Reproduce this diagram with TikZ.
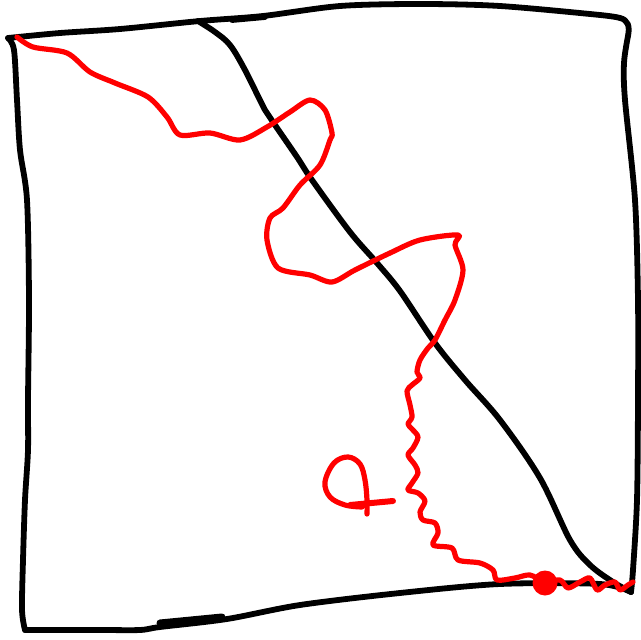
\documentclass[tikz,border=0pt]{standalone}
\begin{document}
\begin{tikzpicture}[x=1pt,y=-1pt,
  ink/.style={draw=black,line width=5.8pt,line cap=round,line join=round},
  redink/.style={draw=red,line width=5.2pt,line cap=round,line join=round}]
\useasboundingbox (0,0) rectangle (641,640);
% frame
\draw[ink] plot[smooth,tension=0.5] coordinates {
 (8,38) (60,33) (120,29) (200,21) (263,16) (340,6) (420,4) (500,6) (600,15) (620,18)};
\draw[ink] (620,18) .. controls (628,20) and (630,26) .. (628,36);
\draw[ink] plot[smooth,tension=0.5] coordinates {
 (628,36) (624,63) (625,100) (635,200) (638,300) (638,400) (637,500) (633,570) (631,592)};
\draw[ink] plot[smooth,tension=0.5] coordinates {
 (631,592) (600,584) (500,584) (400,593) (300,605) (227,619) (160,627) (140,630) (100,630) (25,630)};
\draw[ink] plot[smooth,tension=0.5] coordinates {
 (25,630) (22,610) (23,560) (25,500) (28,450) (28,400) (29,300) (27,200) (20,150) (17,100) (14,50) (8,38)};
% extra overstrokes
\draw[ink] (232,20) -- (265,17);
\draw[ink,line width=7pt] (160,623) -- (222,617);
% diagonal
\draw[ink] plot[smooth,tension=0.55] coordinates {
 (198,21) (215,32) (230,45) (245,70) (265,110) (275,125) (297,157) (312,180) (350,232) (377,263) (400,291) (435,343) (465,380) (500,420) (540,478) (570,540) (590,565) (613,582) (631,592)};
% red curve
\draw[redink] plot[smooth,tension=0.5] coordinates {
 (17,37) (33,47) (67,53) (90,72) (115,83) (148,97) (167,117) (180,135) (210,133) (240,140) (267,127) (290,112) (310,100) (325,110) (332,133) (330,140) (320,165) (300,185) (283,208) (270,218) (267,240) (278,268) (310,275) (332,282) (355,270) (390,253) (420,240) (458,235) (455,245) (463,270) (455,300) (445,320) (435,340) (428,348) (420,360) (417,372) (420,378) (412,385) (407,391) (410,405) (412,417) (408,424) (412,429) (418,437) (413,448) (408,455) (415,465) (418,473) (412,483) (408,490) (418,493) (425,501) (420,512) (423,520) (435,523) (438,533) (433,545) (452,548) (458,560) (480,563) (493,570) (497,580) (515,578) (530,575) (545,582) (560,580) (568,588) (580,582) (590,578) (597,590) (605,585) (615,582) (620,590) (628,585) (633,582)};
\fill[red] (545,583) circle (12.5);
% handwritten loop mark
\draw[redink] plot[smooth,tension=0.6] coordinates {
 (367,514) (367,500) (365,480) (360,464) (348,457) (334,463) (325,482) (330,497) (345,505) (362,507)};
\draw[redink,line width=6pt] (350,505) -- (393,501);
\end{tikzpicture}
\end{document}
